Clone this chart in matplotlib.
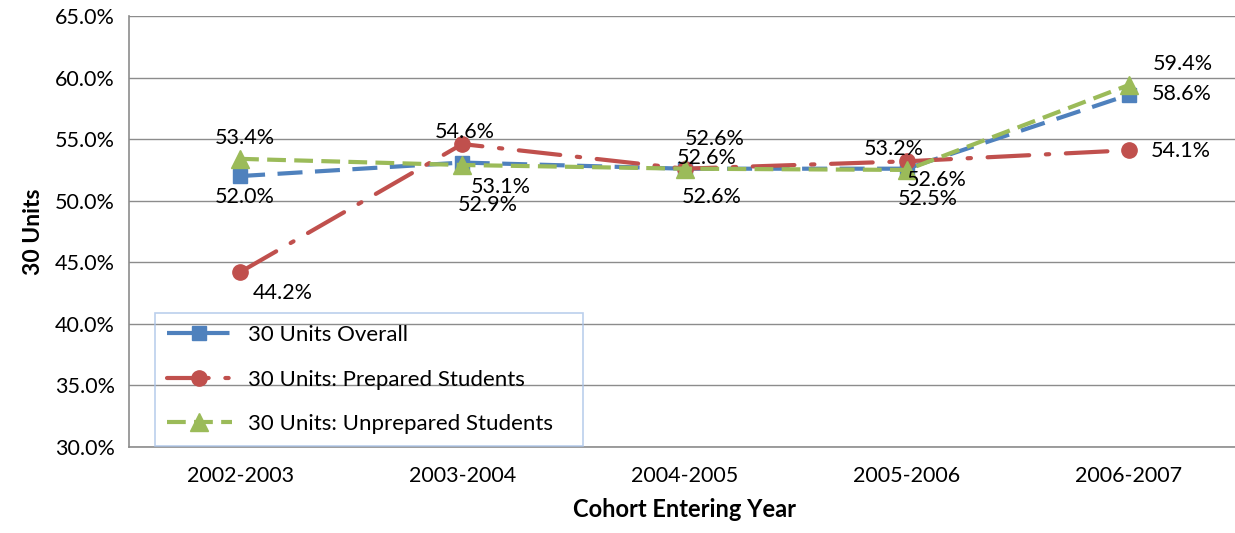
import matplotlib
matplotlib.use("Agg")
import matplotlib.pyplot as plt
from matplotlib.ticker import FuncFormatter

categories = ["2002-2003", "2003-2004", "2004-2005", "2005-2006", "2006-2007"]
overall = [52.0, 53.1, 52.6, 52.6, 58.6]
prepared = [44.2, 54.6, 52.6, 53.2, 54.1]
unprepared = [53.4, 52.9, 52.6, 52.5, 59.4]
series_names = ["30 Units Overall", "30 Units: Prepared Students", "30 Units: Unprepared Students"]

plt.rcParams['font.family'] = ['Lato', 'DejaVu Sans']

W, H = 1235, 533
fig = plt.figure(figsize=(W / 100, H / 100), dpi=100)
ax = fig.add_axes([129 / W, 1 - 447 / H, 1111 / W, 431 / H])

x = list(range(len(categories)))
blue, red, green = "#4f81bd", "#c0504d", "#9bbb59"

l1, = ax.plot(x, overall, color=blue, lw=3.0, linestyle=(0, (6, 3)),
              marker="s", markersize=10, label=series_names[0], zorder=3)
l2, = ax.plot(x, prepared, color=red, lw=3.0, linestyle=(0, (10, 4, 0.8, 4)),
              marker="o", markersize=11, label=series_names[1], zorder=3,
              dash_capstyle="round")
l3, = ax.plot(x, unprepared, color=green, lw=3.0, linestyle=(0, (4.5, 2)),
              marker="^", markersize=13, label=series_names[2], zorder=4)

# label offsets in pixels (dx, dy) ; dy positive = up
off_overall = [(5, -21), (38, -24), (22, 11), (30, -11), (53, 1)]
off_prepared = [(43, -21), (2, 12), (30, 30), (-13, 12), (52, -1)]
off_unprepared = [(5, 21), (25, -40), (27, -28), (21, -29), (54, 21)]

fs = 15.5
for vals, offs in ((overall, off_overall), (prepared, off_prepared), (unprepared, off_unprepared)):
    for xi, v, (dx, dy) in zip(x, vals, offs):
        ax.annotate(f"{v:.1f}%", (xi, v), xytext=(dx, dy), textcoords="offset pixels",
                    ha="center", va="center", fontsize=fs, color="black", zorder=5)

ax.set_xlim(-0.5, 4.5)
ax.set_ylim(30, 65)
ax.set_yticks([30 + 5 * i for i in range(8)])
ax.yaxis.set_major_formatter(FuncFormatter(lambda v, p: f"{v:.1f}%"))
ax.set_xticks(x)
ax.set_xticklabels(categories)
ax.tick_params(axis="both", length=0, labelsize=fs)
ax.tick_params(axis="x", pad=14)
ax.tick_params(axis="y", pad=10)
ax.grid(axis="y", color="#8c8c8c", lw=1)
ax.set_axisbelow(True)
for s in ("top", "right"):
    ax.spines[s].set_visible(False)
for s in ("left", "bottom"):
    ax.spines[s].set_color("#8c8c8c")
    ax.spines[s].set_linewidth(1.2)

ax.set_ylabel("30 Units", fontsize=16.5, fontweight="bold", labelpad=8)
ax.set_xlabel("Cohort Entering Year", fontsize=17, fontweight="bold", labelpad=8)

leg = ax.legend(handles=[l1, l2, l3], loc="upper left",
                bbox_to_anchor=((155 - 129) / 1111, (447 - 313) / 431, 428 / 1111, 0),
                mode="expand", borderaxespad=0, fontsize=16, handlelength=2.9,
                handletextpad=0.75, labelspacing=1.1, borderpad=0.55,
                fancybox=False, frameon=True)
leg.get_frame().set_edgecolor("#aac3e8")
leg.get_frame().set_facecolor("none")
leg.get_frame().set_linewidth(1.2)

fig.savefig("out.png", dpi=100)
